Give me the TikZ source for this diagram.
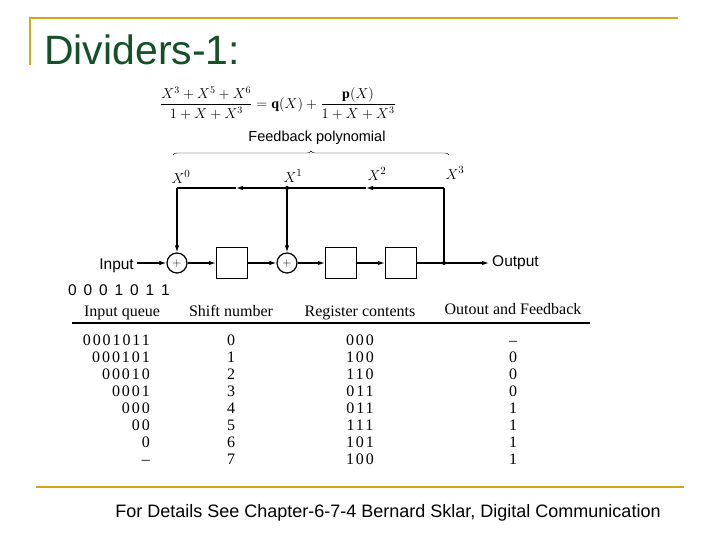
\documentclass[tikz,border=0pt]{standalone}
\usepackage{fontspec}
\setmainfont{Liberation Serif}
\setsansfont{Liberation Sans}
\usetikzlibrary{decorations.pathreplacing,arrows.meta}
\definecolor{gold}{RGB}{204,170,30}
\definecolor{titlegreen}{RGB}{20,80,40}
\begin{document}
\begin{tikzpicture}[x=1pt,y=-1pt,
  lbl/.style={font=\sffamily\fontsize{15.5}{17}\selectfont,inner sep=0},
  tb/.style={font=\fontsize{16}{18}\selectfont,inner sep=0,anchor=base},
  ln/.style={line width=1.2pt},
  reg/.style={draw,ln,minimum size=31pt,inner sep=0},
  add/.style={draw,ln,circle,minimum size=20pt,inner sep=0,font=\fontsize{12}{12}\selectfont},
  arr/.style={ln,-{Latex[length=7pt,width=4.5pt]}},
  xl/.style={inner sep=0,font=\fontsize{15}{16}\selectfont},
  dot/.style={circle,fill,inner sep=0,minimum size=4pt}]
\useasboundingbox (0,0) rectangle (720,540);
\draw[gold,line width=2.5pt] (30,65) -- (30,18) -- (678,18);
\draw[gold,line width=2.5pt] (36,487) -- (684,487);
\node[anchor=base west,inner sep=0,text=titlegreen,font=\sffamily\fontsize{41}{44}\selectfont] (title) at (44,65) {Dividers-1:};
\node[inner sep=0,font=\sffamily\fontsize{18}{20}\selectfont] (foot) at (388,513) {For Details See Chapter-6-7-4 Bernard Sklar, Digital Communication};
\node[inner sep=0,font=\fontsize{14}{15}\selectfont] (eq) at (278,103) {$\displaystyle\frac{X^3+X^5+X^6}{1+X+X^3}=\mathbf{q}(X)+\frac{\mathbf{p}(X)}{1+X+X^3}$};
\node[lbl,font=\sffamily\fontsize{14.5}{16}\selectfont] (fp) at (317,138) {Feedback polynomial};
\draw[decorate,decoration={brace,amplitude=4pt}] (173,155) -- (449,155);
\node[xl] (x0) at (181,177) {$X^0$};
\node[xl] (x1) at (293,176) {$X^1$};
\node[xl] (x2) at (377,174) {$X^2$};
\node[xl] (x3) at (455,173) {$X^3$};
\node[add] (a1) at (177,263) {$+$};
\node[reg] (r1) at (232,263) {};
\node[add] (a2) at (287,263) {$+$};
\node[reg] (r2) at (341,263) {};
\node[reg] (r3) at (401,263) {};
\coordinate (od) at (444,263);
\coordinate (ft) at (444,188);
\coordinate (fm) at (287,188);
\coordinate (fl) at (177,188);
\node[dot] at (od) {};
\node[dot] at (fm) {};
\node[lbl,anchor=east] (in) at (134,266) {Input};
\node[lbl,anchor=west] (out) at (492,263) {Output};
\draw[arr] (in.east |- a1) ++(3,0) -- (a1);
\draw[arr] (a1) -- (r1);
\draw[arr] (r1) -- (a2);
\draw[arr] (a2) -- (r2);
\draw[arr] (r2) -- (r3);
\draw[ln] (r3) -- (od);
\draw[arr] (od) -- ([xshift=-3pt]out.west);
\draw[ln] (od) -- (ft);
\draw[arr] (ft) -- (366,188);
\draw[ln] (366,188) -- (fm);
\draw[arr] (fm) -- (236,188);
\draw[ln] (236,188) -- (fl);
\draw[arr] (fl) -- (a1);
\draw[arr] (fm) -- (a2);
\node[lbl,anchor=west] (iq) at (68,290) {0\,\ 0\,\ 0\,\ 1\,\ 0\,\ 1\,\ 1};
% table
\node[tb] (h1) at (122,316) {Input queue};
\node[tb] (h2) at (231,316) {Shift number};
\node[tb] (h3) at (360,316) {Register contents};
\node[tb] (h4) at (513,314) {Outout and Feedback};
\draw[ln] (72,323) -- (590,323);
\foreach \q/\s/\r/\o [count=\i from 0] in {0001011/0/000/--,000101/1/100/0,00010/2/110/0,0001/3/011/0,000/4/011/1,00/5/111/1,0/6/101/1,--/7/100/1}{
  \pgfmathsetmacro{\yy}{345+17*\i}
  \node[tb,anchor=base east] at (150,\yy) {\addfontfeature{LetterSpace=12}\q};
  \node[tb] at (231,\yy) {\s};
  \node[tb] at (360,\yy) {\addfontfeature{LetterSpace=12}\r};
  \node[tb] at (513,\yy) {\o};
}
\end{tikzpicture}
\end{document}
